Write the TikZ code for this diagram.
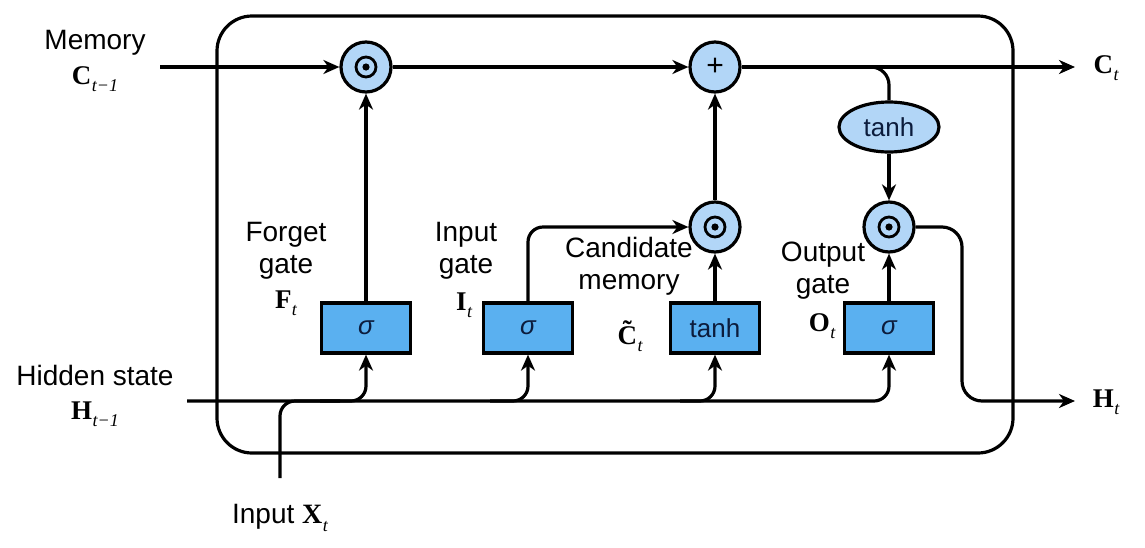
\documentclass[tikz,border=0pt]{standalone}
\usepackage{fontspec}
\setmainfont{Liberation Sans}
\newfontfamily\serifm{Liberation Serif}
\usetikzlibrary{arrows.meta,shapes.geometric}
\definecolor{circfill}{RGB}{178,214,247}
\definecolor{boxfill}{RGB}{90,176,240}
\definecolor{navy}{RGB}{12,28,60}
\newcommand{\vsym}[2]{{\serifm\bfseries #1}\kern0.5pt\raisebox{-0.5ex}{\serifm\itshape\fontsize{18}{18}\selectfont #2}}
\newcommand{\tildeC}{{\serifm\bfseries\accent"02DC C}}
\begin{document}
\begin{tikzpicture}[x=1pt,y=-1pt,
  ln/.style={line width=3.2pt},
  arr/.style={ln,-{Stealth[length=16pt,width=14pt,inset=5pt]}},
  opnode/.style={circle,draw,line width=3.2pt,fill=circfill,minimum size=50pt,inner sep=0pt},
  odot/.style={opnode,path picture={
     \draw[black,line width=2.8pt] (path picture bounding box.center) circle (10pt);
     \fill[black] (path picture bounding box.center) circle (3.6pt);}},
  gatebox/.style={rectangle,draw,line width=3.2pt,fill=boxfill,minimum width=89pt,minimum height=50pt,inner sep=0pt,
     font=\fontsize{26}{26}\selectfont,text=navy},
  lbl/.style={font=\fontsize{28}{32}\selectfont,align=center,inner sep=0pt},
  sym/.style={font=\fontsize{27}{30}\selectfont,inner sep=0pt}
]
\useasboundingbox (0,0) rectangle (1145,547);

% outer cell
\node[draw,line width=3.2pt,rounded corners=35pt,minimum width=796pt,minimum height=437pt,inner sep=0pt] (cell) at (615,234.5) {};

% operation nodes
\node[odot] (fm) at (366,67) {};
\node[opnode,font=\fontsize{30}{30}\selectfont] (plus) at (715,67) {\raisebox{1pt}{+}};
\node[odot] (cm) at (715,227) {};
\node[odot] (om) at (889,227) {};
\node[ellipse,draw,line width=3.2pt,fill=circfill,minimum width=100pt,minimum height=50pt,inner sep=0pt,
      font=\fontsize{26}{26}\selectfont,text=navy] (th) at (889,127) {tanh};

% gates
\node[gatebox] (fg) at (366,328) {\itshape σ};
\node[gatebox] (ig) at (528,328) {\itshape σ};
\node[gatebox] (cg) at (715,328) {tanh};
\node[gatebox] (og) at (889,328) {\itshape σ};

% free ends
\coordinate (cin) at (160,67);
\coordinate (cout) at (1075,67);
\coordinate (hin) at (187,401);
\coordinate (hout) at (1075,401);
\coordinate (xin) at (280,478);
\coordinate (ctap) at (850,67);
\coordinate (hturn) at (962,401);
\coordinate (bf) at (320,401);
\coordinate (bi) at (490,401);
\coordinate (bc) at (680,401);
\coordinate (xj) at (340,401);

% memory path
\draw[arr] (cin) -- (fm);
\draw[arr] (fm) -- (plus);
\draw[arr] (plus) -- (cout);
\draw[ln,rounded corners=18pt] (ctap) -| (th.north);
\draw[arr] (th) -- (om);
\draw[arr,rounded corners=20pt] (om.east) -| (hturn) -- (hout);

% gate connections
\draw[arr] (fg) -- (fm);
\draw[arr,rounded corners=15pt] (ig.north) |- (cm.west);
\draw[arr] (cg) -- (cm);
\draw[arr] (cm) -- (plus);
\draw[arr] (og) -- (om);

% hidden state bus and input
\draw[arr,rounded corners=15pt] (hin) -| (og.south);
\draw[ln,rounded corners=15pt] (xin) |- (xj);
\draw[arr,rounded corners=15pt] (bf) -| (fg.south);
\draw[arr,rounded corners=15pt] (bi) -| (ig.south);
\draw[arr,rounded corners=15pt] (bc) -| (cg.south);

% labels
\node[lbl] (lmem) at (95,43) {Memory};
\node[sym] (lc0) at (95,79) {\vsym{C}{t−1}};
\node[lbl] (lhid) at (95,375) {Hidden state};
\node[sym] (lh0) at (95,414) {\vsym{H}{t−1}};
\node[lbl] (lfg) at (286,251) {Forget\\gate};
\node[sym] (lF) at (286,303) {\vsym{F}{t}};
\node[lbl] (lig) at (466,251) {Input\\gate};
\node[sym] (lI) at (464,305) {\vsym{I}{t}};
\node[lbl] (lcm) at (629,266) {Candidate\\memory};
\node[sym] (lCt) at (630,336) {\tildeC\kern0.5pt\raisebox{-0.5ex}{\serifm\itshape\fontsize{18}{18}\selectfont t}};
\node[lbl] (log) at (823,271) {Output\\gate};
\node[sym] (lO) at (822,326) {\vsym{O}{t}};
\node[lbl] (lx) at (280,518) {Input \vsym{X}{t}};
\node[sym] (lCo) at (1106,68) {\vsym{C}{t}};
\node[sym] (lHo) at (1106,402) {\vsym{H}{t}};
\end{tikzpicture}
\end{document}
